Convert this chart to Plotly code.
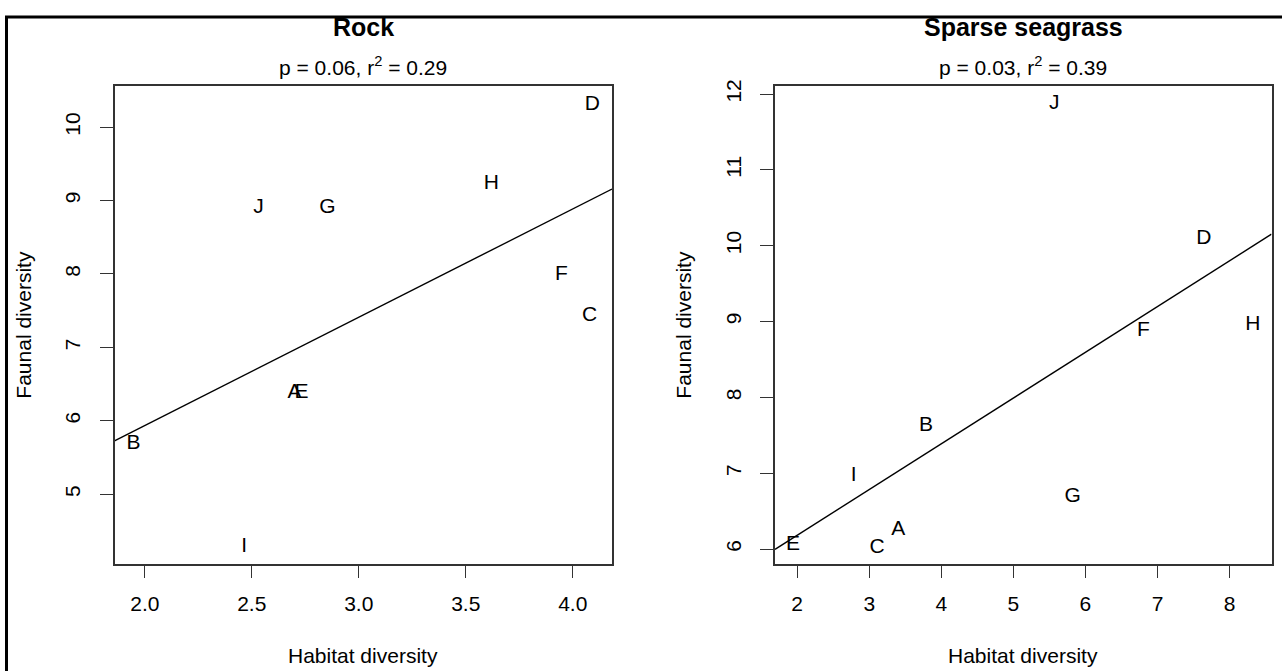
import numpy as np
import plotly.graph_objects as go

W, H = 1282, 671

# ---------------- data ----------------
site_labels = ["A", "B", "C", "D", "E", "F", "G", "H", "I", "J"]

rock_habitat = [2.700, 1.947, 4.079, 4.092, 2.732, 3.947, 2.853, 3.620, 2.465, 2.531]
rock_fauna = [6.388, 5.691, 7.434, 10.31, 6.388, 7.996, 8.895, 9.232, 4.290, 8.908]

sea_habitat = [3.401, 3.788, 3.107, 7.644, 1.943, 6.803, 5.824, 8.324, 2.783, 5.566]
sea_fauna = [6.252, 7.623, 6.021, 10.094, 6.064, 8.884, 6.687, 8.962, 6.970, 11.873]

rock_xticks = [2.0, 2.5, 3.0, 3.5, 4.0]
rock_yticks = [5, 6, 7, 8, 9, 10]
sea_xticks = [2, 3, 4, 5, 6, 7, 8]
sea_yticks = [6, 7, 8, 9, 10, 11, 12]

panel_titles = ["Rock", "Sparse seagrass"]
panel_stats = ["p = 0.06, r<sup>2</sup> = 0.29", "p = 0.03, r<sup>2</sup> = 0.39"]
x_title = "Habitat diversity"
y_title = "Faunal diversity"

# ---------------- layout constants ----------------
FONT = "Liberation Sans, Arial, Helvetica, sans-serif"
FS = 21
BOX = "#333333"

rock_xrange = [1.8584, 4.1836]
rock_yrange = [4.057, 10.557]
sea_xrange = [1.692, 8.582]
sea_yrange = [5.809, 12.104]


def px_x(p):
    return p / W


def px_y(p):
    return 1 - p / H


left_dom = [px_x(114.5), px_x(612)]
right_dom = [px_x(775), px_x(1271.5)]
y_dom = [px_y(562.5), px_y(80)]

fig = go.Figure()

panels = [
    (rock_habitat, rock_fauna, rock_xrange, "x", "y"),
    (sea_habitat, sea_fauna, sea_xrange, "x2", "y2"),
]
for hx, fy, xr, xa, ya in panels:
    slope, icpt = np.polyfit(np.array(hx), np.array(fy), 1)
    xs = np.array(xr)
    fig.add_trace(go.Scatter(
        x=xs, y=icpt + slope * xs, mode="lines",
        line=dict(color="black", width=1.4),
        xaxis=xa, yaxis=ya, showlegend=False, hoverinfo="skip"))
    fig.add_trace(go.Scatter(
        x=hx, y=fy, mode="text", text=site_labels,
        textposition="middle center",
        textfont=dict(family=FONT, size=FS, color="black"),
        cliponaxis=False, xaxis=xa, yaxis=ya, showlegend=False))

axis_common = dict(
    showline=True, mirror=True, linecolor=BOX, linewidth=1.5,
    ticks="outside", ticklen=13, tickwidth=1.3, tickcolor=BOX,
    showgrid=False, zeroline=False,
    tickfont=dict(family=FONT, size=FS, color="black"),
)

fig.update_layout(
    width=W, height=H,
    margin=dict(l=0, r=0, t=0, b=0),
    paper_bgcolor="white", plot_bgcolor="white",
    font=dict(family=FONT, size=FS, color="black"),
    xaxis=dict(domain=left_dom, range=rock_xrange, tickvals=rock_xticks,
               tickformat=".1f", anchor="y", ticklabelstandoff=7, **axis_common),
    yaxis=dict(domain=y_dom, range=rock_yrange, tickvals=rock_yticks,
               tickangle=-90, anchor="x", ticklabelstandoff=11, **axis_common),
    xaxis2=dict(domain=right_dom, range=sea_xrange, tickvals=sea_xticks,
                anchor="y2", ticklabelstandoff=7, **axis_common),
    yaxis2=dict(domain=y_dom, range=sea_yrange, tickvals=sea_yticks,
                tickangle=-90, anchor="x2", ticklabelstandoff=11, **axis_common),
)

annotations = []
for dom, title, stat in zip([left_dom, right_dom], panel_titles, panel_stats):
    cx = (dom[0] + dom[1]) / 2
    annotations.append(dict(
        x=cx, y=px_y(20), xref="paper", yref="paper", showarrow=False,
        text="<b>" + title + "</b>", font=dict(family=FONT, size=25, color="black"),
        xanchor="center", yanchor="middle"))
    annotations.append(dict(
        x=cx, y=px_y(60), xref="paper", yref="paper", showarrow=False,
        text=stat, font=dict(family=FONT, size=FS, color="black"),
        xanchor="center", yanchor="middle"))
    annotations.append(dict(
        x=cx, y=px_y(655), xref="paper", yref="paper", showarrow=False,
        text=x_title, font=dict(family=FONT, size=FS, color="black"),
        xanchor="center", yanchor="middle"))

for xpx in [24, 684]:
    annotations.append(dict(
        x=px_x(xpx), y=px_y(321), xref="paper", yref="paper", showarrow=False,
        text=y_title, textangle=-90, font=dict(family=FONT, size=FS, color="black"),
        xanchor="center", yanchor="middle"))

fig.update_layout(annotations=annotations)

# outer frame (extends past the right and bottom edges of the picture)
fig.add_shape(type="rect", xref="paper", yref="paper",
              x0=px_x(6.5), x1=1.05, y0=-0.05, y1=px_y(10),
              line=dict(color="black", width=3), fillcolor="rgba(0,0,0,0)",
              layer="above")

fig.write_html("out.html")
